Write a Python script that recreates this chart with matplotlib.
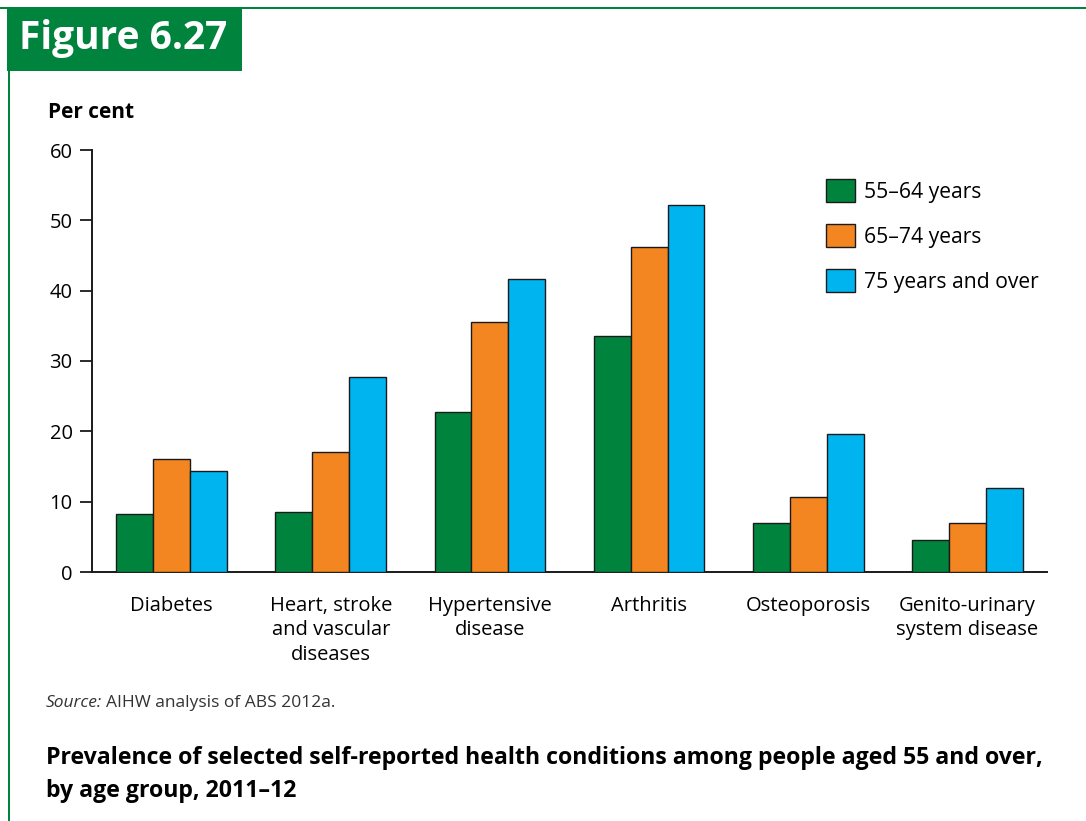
import matplotlib
matplotlib.use("Agg")
import matplotlib.pyplot as plt
import matplotlib.patches as patches
import numpy as np

plt.rcParams["font.family"] = ["Open Sans", "DejaVu Sans"]

# data
categories = [
    "Diabetes",
    "Heart, stroke\nand vascular\ndiseases",
    "Hypertensive\ndisease",
    "Arthritis",
    "Osteoporosis",
    "Genito-urinary\nsystem disease",
]
age_groups = ["55–64 years", "65–74 years", "75 years and over"]
age_55_64 = [8.2, 8.5, 22.8, 33.6, 7.0, 4.5]
age_65_74 = [16.0, 17.1, 35.5, 46.2, 10.6, 7.0]
age_75_plus = [14.3, 27.7, 41.6, 52.2, 19.6, 12.0]
y_ticks = [0, 10, 20, 30, 40, 50, 60]

green = "#00843D"
orange = "#F48621"
blue = "#00B5EF"
colors = [green, orange, blue]

W, H = 1086, 821
fig = plt.figure(figsize=(W / 100, H / 100), dpi=100)

# green frame + header box
fig.add_artist(patches.Rectangle((0, 1 - 9 / H), 1, 2 / H, transform=fig.transFigure,
                                 facecolor=green, edgecolor="none"))
fig.add_artist(patches.Rectangle((8 / W, 0), 2 / W, 1 - 8 / H, transform=fig.transFigure,
                                 facecolor=green, edgecolor="none"))
fig.add_artist(patches.Rectangle((7 / W, 1 - 71 / H), 235 / W, 63 / H,
                                 transform=fig.transFigure, facecolor=green, edgecolor="none"))
fig.text(19 / W, 1 - 39 / H, "Figure 6.27", color="white", fontsize=28,
         fontweight="bold", va="center", ha="left")

ax = fig.add_axes([92 / W, 1 - 572 / H, (1047 - 92) / W, (572 - 150) / H])

x = np.arange(len(categories))
w = 0.232
series = [age_55_64, age_65_74, age_75_plus]
for i, (vals, c, lab) in enumerate(zip(series, colors, age_groups)):
    ax.bar(x + (i - 1) * w, vals, width=w, color=c, edgecolor="#1a1a1a",
           linewidth=1.0, label=lab, zorder=3)

ax.set_xlim(-0.5, 5.5)
ax.set_ylim(0, 60)
ax.set_yticks(y_ticks)
ax.set_xticks(x)
ax.set_xticklabels(categories, fontsize=14.5, linespacing=1.3, va="top")
ax.tick_params(axis="x", length=0, pad=17)
ax.tick_params(axis="y", length=9, width=1.3, labelsize=14.5, pad=5, color="#1a1a1a")
for s in ["top", "right"]:
    ax.spines[s].set_visible(False)
for s in ["left", "bottom"]:
    ax.spines[s].set_linewidth(1.4)
    ax.spines[s].set_color("#1a1a1a")

ax.legend(loc="upper left", bbox_to_anchor=(0.749, 0.977), frameon=False,
          fontsize=15.2, handlelength=1.35, handleheight=1.35,
          handletextpad=0.45, labelspacing=1.0)

fig.text(48 / W, 1 - 113 / H, "Per cent", fontsize=15, fontweight="bold",
         va="center", ha="left")

src = fig.text(46 / W, 1 - 703 / H, "Source:", fontsize=12.5, style="italic",
               va="center", ha="left", color="#333333")
fig.canvas.draw()
bb = src.get_window_extent()
fig.text((bb.x1 + 4) / W, 1 - 703 / H, "AIHW analysis of ABS 2012a.",
         fontsize=12.5, va="center", ha="left", color="#333333")

fig.text(46 / W, 1 - 774 / H,
         "Prevalence of selected self-reported health conditions among people aged 55 and over,\n"
         "by age group, 2011–12",
         fontsize=16.7, fontweight="bold", va="center", ha="left", linespacing=1.5)

fig.savefig("out.png", dpi=100)
